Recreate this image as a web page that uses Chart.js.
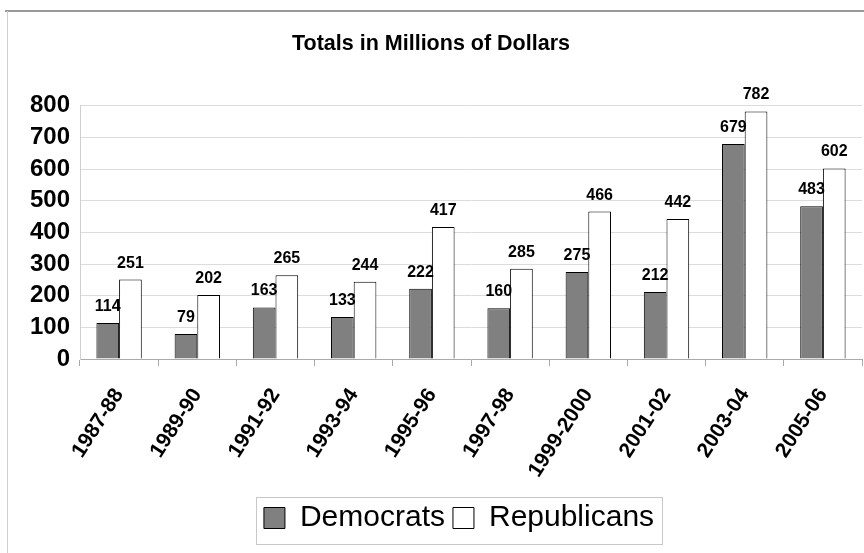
<!DOCTYPE html>
<html>
<head>
<meta charset="utf-8">
<script src="https://cdn.jsdelivr.net/npm/chart.js@4"></script>
<style>
  html, body { margin: 0; padding: 0; background: #fff; }
  #wrap { width: 864px; height: 553px; position: relative; }
</style>
</head>
<body>
<div id="wrap"><canvas id="myChart" width="864" height="553"></canvas></div>
<script>
const periods = ['1987-88', '1989-90', '1991-92', '1993-94', '1995-96', '1997-98', '1999-2000', '2001-02', '2003-04', '2005-06'];
const democrats = [114, 79, 163, 133, 222, 160, 275, 212, 679, 483];
const republicans = [251, 202, 265, 244, 417, 285, 466, 442, 782, 602];

const FONT = "'Liberation Sans', Arial, sans-serif";

// value labels above every bar
const barLabels = {
  id: 'barLabels',
  afterDatasetsDraw(chart) {
    const ctx = chart.ctx;
    ctx.save();
    ctx.font = 'bold 16px ' + FONT;
    ctx.fillStyle = '#000';
    ctx.textAlign = 'center';
    ctx.textBaseline = 'alphabetic';
    chart.data.datasets.forEach((ds, i) => {
      chart.getDatasetMeta(i).data.forEach((bar, j) => {
        ctx.fillText(ds.data[j], bar.x, bar.y - 12);
      });
    });
    ctx.restore();
  }
};

// outer frame, legend shift and box round the legend
const frame = {
  id: 'frame',
  afterLayout(chart) {
    chart.legend.left += 56; // legend sits a bit right of centre
  },
  beforeDraw(chart) {
    const ctx = chart.ctx;
    ctx.save();
    ctx.strokeStyle = '#999';
    ctx.lineWidth = 2;
    ctx.beginPath();
    ctx.moveTo(5, 11);
    ctx.lineTo(864, 11);
    ctx.stroke();
    ctx.strokeStyle = '#d0d0d0';
    ctx.lineWidth = 1;
    ctx.beginPath();
    ctx.moveTo(7.5, 11);
    ctx.lineTo(7.5, 553);
    ctx.stroke();
    ctx.restore();
  },
  afterDraw(chart) {
    const l = chart.legend;
    const ctx = chart.ctx;
    const cx = (l.left + l.right) / 2;
    ctx.save();
    ctx.strokeStyle = '#c8c8c8';
    ctx.lineWidth = 1;
    ctx.strokeRect(Math.round(cx - 203) + 0.5, Math.round(l.top + 2) + 0.5, 406, 47);
    ctx.restore();
  }
};

const data = {
  labels: periods,
  datasets: [
    {
      label: 'Democrats',
      data: democrats,
      backgroundColor: '#808080',
      borderColor: '#000',
      borderWidth: 1
    },
    {
      label: 'Republicans',
      data: republicans,
      backgroundColor: '#fff',
      borderColor: '#000',
      borderWidth: 1
    }
  ]
};

const config = {
  type: 'bar',
  data: data,
  plugins: [barLabels, frame],
  options: {
    animation: false,
    responsive: false,
    datasets: {
      bar: {
        categoryPercentage: 0.58,
        barPercentage: 1
      }
    },
    layout: {
      padding: { left: 0, right: 2, top: 16, bottom: 10 }
    },
    plugins: {
      title: {
        display: true,
        text: 'Totals in Millions of Dollars',
        color: '#000',
        font: { family: FONT, size: 21.5, weight: 'bold' },
        padding: { top: 15, bottom: 49 }
      },
      legend: {
        position: 'bottom',
        labels: {
          color: '#000',
          font: { family: FONT, size: 30 },
          boxWidth: 21,
          boxHeight: 21,
          padding: 8
        }
      },
      tooltip: { enabled: false }
    },
    scales: {
      x: {
        afterFit(scale) { scale.height = 136; },
        grid: {
          drawOnChartArea: false,
          drawTicks: true,
          tickLength: 7,
          color: '#aaa'
        },
        border: { color: '#aaa' },
        ticks: {
          color: '#000',
          font: { family: FONT, size: 21, weight: 'bold' },
          minRotation: 57,
          maxRotation: 57,
          autoSkip: false,
          padding: 18
        }
      },
      y: {
        afterFit(scale) { scale.width = 80; },
        min: 0,
        max: 800,
        ticks: {
          stepSize: 100,
          autoSkip: false,
          color: '#000',
          font: { family: FONT, size: 24, weight: 'bold' },
          padding: 10
        },
        grid: {
          color: '#dcdcdc',
          drawTicks: false
        },
        border: { color: '#d0d0d0' }
      }
    }
  }
};

var myChart;
window.addEventListener('load', _ => {
  myChart = new Chart(document.getElementById('myChart').getContext('2d'), config);
});
</script>
</body>
</html>
